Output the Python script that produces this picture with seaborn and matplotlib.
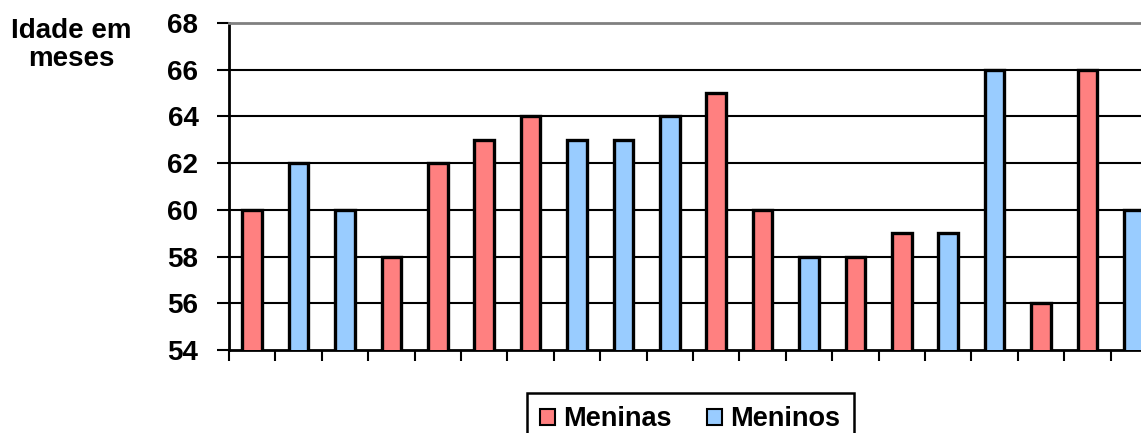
import numpy as np
import pandas as pd
import matplotlib
matplotlib.use("Agg")
import matplotlib.pyplot as plt
import seaborn as sns
from matplotlib.patches import Patch

# Age in months of each child, in order, with the child's group
children = [str(i) for i in range(1, 21)]
ages = [60, 62, 60, 58, 62, 63, 64, 63, 63, 64, 65, 60, 58, 58, 59, 59, 66, 56, 66, 60]
groups = ["Meninas", "Meninos", "Meninos", "Meninas", "Meninas", "Meninas", "Meninas",
          "Meninos", "Meninos", "Meninos", "Meninas", "Meninas", "Meninos", "Meninas",
          "Meninas", "Meninos", "Meninos", "Meninas", "Meninas", "Meninos"]
y_ticks = [54, 56, 58, 60, 62, 64, 66, 68]

palette = {"Meninas": "#FF8080", "Meninos": "#99CCFF"}

df = pd.DataFrame({"crianca": children, "idade": ages, "grupo": groups})

sns.set_style("white")
plt.rcParams["font.family"] = ["Liberation Sans", "DejaVu Sans"]
plt.rcParams["font.weight"] = "bold"
plt.rcParams["text.color"] = "black"
plt.rcParams["xtick.color"] = "black"
plt.rcParams["ytick.color"] = "black"

fig = plt.figure(figsize=(11.41, 4.33), dpi=100)
ax = fig.add_axes([0.2007, 0.1917, 0.8133, 0.7552])

sns.barplot(data=df, x="crianca", y="idade", hue="grupo", palette=palette,
            dodge=False, width=0.42, edgecolor="black", linewidth=2.4,
            saturation=1, legend=False, ax=ax, zorder=3)

ax.set_ylim(54, 68)
ax.set_xlim(-0.5, len(children) - 0.5)
ax.set_yticks(y_ticks)
ax.set_yticklabels([str(v) for v in y_ticks], fontsize=20, fontweight="bold")
ax.set_xticks(np.arange(-0.5, len(children), 1))
ax.set_xticklabels([])
ax.tick_params(axis="x", length=8, width=1.5, color="black", direction="out", bottom=True)
ax.tick_params(axis="y", length=9, width=1.5, color="black", direction="out", left=True,
               pad=13, labelcolor="black")
ax.set_xlabel("")
ax.set_ylabel("")

for v in y_ticks[1:-1]:
    ax.axhline(v, color="black", lw=1.5, zorder=1)

for s in ["left", "bottom"]:
    ax.spines[s].set_color("black")
    ax.spines[s].set_linewidth(2)
ax.spines["top"].set_color("#808080")
ax.spines["top"].set_linewidth(2)
ax.spines["right"].set_visible(False)

fig.text(0.0625, 0.895, "Idade em\nmeses", ha="center", va="center",
         fontsize=20, fontweight="bold", linespacing=1.1, color="black")

handles = [Patch(facecolor=palette[g], edgecolor="black", linewidth=1.5, label=g)
           for g in ["Meninas", "Meninos"]]
leg = fig.legend(handles=handles, loc="upper center", bbox_to_anchor=(0.605, 0.093),
                 ncol=2, frameon=True, fancybox=False, framealpha=1,
                 prop={"weight": "bold", "size": 19.5}, handlelength=0.55, handleheight=0.55,
                 handletextpad=0.3, columnspacing=1.3, borderpad=0.5, borderaxespad=0)
leg.get_frame().set_edgecolor("black")
leg.get_frame().set_linewidth(1.8)

fig.savefig("out.png", dpi=100)
